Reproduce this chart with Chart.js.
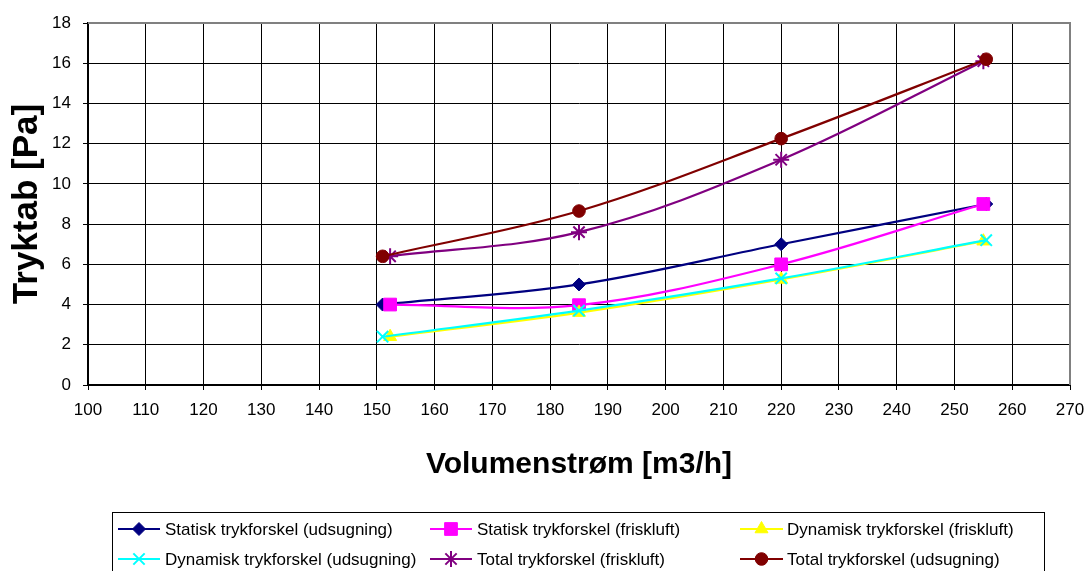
<!DOCTYPE html>
<html>
<head>
<meta charset="utf-8">
<script src="https://cdn.jsdelivr.net/npm/chart.js@4.4.1/dist/chart.umd.min.js"></script>
<style>
  html, body { margin: 0; padding: 0; background: #ffffff; }
  #wrap { width: 1088px; height: 571px; }
</style>
</head>
<body>
<div id="wrap"><canvas id="c" width="1088" height="571"></canvas></div>
<script>
// ---- Data ----
const xUdsugning = [151, 185, 220, 255.5];
const xFriskluft = [152.3, 185, 220, 255];

const statiskUdsugning  = [4, 5, 7, 9];
const statiskFriskluft  = [4, 3.97, 6, 9];
const dynamiskFriskluft = [2.4, 3.6, 5.25, 7.15];
const dynamiskUdsugning = [2.4, 3.7, 5.3, 7.2];
const totalFriskluft    = [6.4, 7.6, 11.2, 16.1];
const totalUdsugning    = [6.4, 8.65, 12.25, 16.2];

const seriesLabels = [
  'Statisk trykforskel (udsugning)',
  'Statisk trykforskel (friskluft)',
  'Dynamisk trykforskel (friskluft)',
  'Dynamisk trykforskel (udsugning)',
  'Total trykforskel (friskluft)',
  'Total trykforskel (udsugning)'
];
const xAxisTitle = 'Volumenstrøm [m3/h]';
const yAxisTitle = 'Tryktab [Pa]';

// ---- Build datasets ----
function pts(xs, ys) { return xs.map((x, i) => ({ x: x, y: ys[i] })); }

const styles = [
  { color: '#000080', point: 'rectRot', r: 6.5, xs: xUdsugning, ys: statiskUdsugning },
  { color: '#FF00FF', point: 'rect', r: 9, xs: xFriskluft, ys: statiskFriskluft },
  { color: '#FFFF00', point: 'triangle', r: 7.5, xs: xFriskluft, ys: dynamiskFriskluft },
  { color: '#00FFFF', point: 'crossRot', r: 8, xs: xUdsugning, ys: dynamiskUdsugning },
  { color: '#800080', point: 'star', r: 8, xs: xFriskluft, ys: totalFriskluft },
  { color: '#800000', point: 'circle', r: 6.3, xs: xUdsugning, ys: totalUdsugning }
];

const datasets = styles.map((s, i) => ({
  label: seriesLabels[i],
  data: pts(s.xs, s.ys),
  borderColor: s.color,
  backgroundColor: s.color,
  borderWidth: 2.2,
  pointStyle: s.point,
  pointRadius: s.r,
  pointHoverRadius: s.r,
  pointBackgroundColor: s.color,
  pointBorderColor: s.color,
  pointBorderWidth: (s.point === 'crossRot' || s.point === 'star') ? 2 : 1,
  tension: 0.35,
  fill: false,
  order: 6 - i
}));

// ---- Plugins ----
const plotBorder = {
  id: 'plotBorder',
  beforeDatasetsDraw(chart) {
    const { ctx, chartArea: a } = chart;
    ctx.save();
    ctx.strokeStyle = '#808080';
    ctx.lineWidth = 2;
    ctx.beginPath();
    ctx.moveTo(a.left, a.top);
    ctx.lineTo(a.right, a.top);
    ctx.lineTo(a.right, a.bottom);
    ctx.stroke();
    ctx.restore();
  }
};

const boxLegend = {
  id: 'boxLegend',
  afterDraw(chart) {
    const dp = Chart.helpers && Chart.helpers.drawPoint;
    const ctx = chart.ctx;
    ctx.save();
    ctx.strokeStyle = '#000000';
    ctx.lineWidth = 1;
    ctx.strokeRect(112.5, 512.5, 932, 70);
    const cols = [ {x0: 118, x1: 160, tx: 165}, {x0: 430, x1: 472, tx: 477}, {x0: 740, x1: 783, tx: 787} ];
    const rows = [529, 559];
    ctx.font = '17px "Liberation Sans", Arial, sans-serif';
    ctx.textBaseline = 'middle';
    ctx.textAlign = 'left';
    chart.data.datasets.forEach((ds, i) => {
      const c = cols[i % 3];
      const y = rows[Math.floor(i / 3)];
      ctx.strokeStyle = ds.borderColor;
      ctx.lineWidth = 2;
      ctx.beginPath();
      ctx.moveTo(c.x0, y);
      ctx.lineTo(c.x1, y);
      ctx.stroke();
      const mx = (c.x0 + c.x1) / 2;
      ctx.fillStyle = ds.pointBackgroundColor;
      ctx.strokeStyle = ds.pointBorderColor;
      ctx.lineWidth = ds.pointBorderWidth;
      if (dp) {
        dp(ctx, { pointStyle: ds.pointStyle, rotation: 0, radius: ds.pointRadius, borderWidth: ds.pointBorderWidth }, mx, y);
      }
      ctx.fillStyle = '#000000';
      ctx.fillText(ds.label, c.tx, y + 1);
    });
    ctx.restore();
  }
};

Chart.defaults.font.family = '"Liberation Sans", Arial, sans-serif';
Chart.defaults.color = '#000000';

new Chart(document.getElementById('c'), {
  type: 'line',
  data: { datasets: datasets },
  options: {
    responsive: false,
    animation: false,
    events: [],
    layout: { padding: { top: 23, right: 18, bottom: 0, left: 0 } },
    plugins: {
      legend: { display: false },
      tooltip: { enabled: false }
    },
    scales: {
      x: {
        type: 'linear',
        min: 100, max: 270,
        ticks: { stepSize: 10, font: { size: 17 }, padding: 10, color: '#000', maxRotation: 0 },
        grid: { color: '#000000', lineWidth: 1, tickLength: 5, drawTicks: true },
        border: { color: '#000000', width: 2 },
        title: { display: true, text: xAxisTitle, font: { size: 30, weight: 'bold' }, color: '#000', padding: { top: 0, bottom: 88 } },
        afterFit(scale) { scale.height = 186; scale.paddingRight = 0; scale.paddingLeft = 0; }
      },
      y: {
        min: 0, max: 18,
        ticks: { stepSize: 2, font: { size: 17 }, padding: 12, color: '#000' },
        grid: { color: '#000000', lineWidth: 1, tickLength: 5, drawTicks: true },
        border: { color: '#000000', width: 2 },
        title: { display: true, text: yAxisTitle, font: { size: 35, weight: 'bold' }, color: '#000', padding: { top: 6, bottom: 0 } },
        afterFit(scale) { scale.width = 88; scale.paddingTop = 0; scale.paddingBottom = 0; }
      }
    }
  },
  plugins: [plotBorder, boxLegend]
});
</script>
</body>
</html>
